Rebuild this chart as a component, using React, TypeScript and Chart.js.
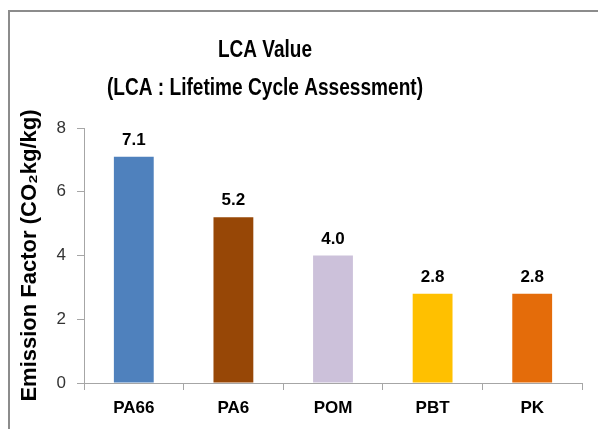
import React, { useEffect, useRef } from "react";
import { Chart, registerables } from "chart.js";

Chart.register(...registerables);

const categories = ["PA66", "PA6", "POM", "PBT", "PK"];
const values = [7.1, 5.2, 4.0, 2.8, 2.8];
const barColors = ["#4F81BD", "#974706", "#CCC1DA", "#FFC000", "#E46C0A"];
const titleLines = ["LCA Value", "(LCA : Lifetime Cycle Assessment)"];
const yTitle = "Emission Factor (CO\u2082kg/kg)";

const framePlugin = {
  id: "frameAndTitle",
  beforeDraw(chart: any) {
    const ctx = chart.ctx;
    ctx.save();
    ctx.fillStyle = "#ffffff";
    ctx.fillRect(0, 0, chart.width, chart.height);
    ctx.strokeStyle = "#8c8c8c";
    ctx.lineWidth = 2;
    ctx.beginPath();
    ctx.moveTo(9, chart.height);
    ctx.lineTo(9, 11);
    ctx.lineTo(chart.width, 11);
    ctx.stroke();
    ctx.restore();
  },
  afterDraw(chart: any) {
    const ctx = chart.ctx;
    ctx.save();
    ctx.fillStyle = "#000000";
    ctx.textAlign = "center";
    ctx.textBaseline = "alphabetic";
    ctx.font = "bold 23px 'Liberation Sans', Arial, sans-serif";
    ctx.fillText(titleLines[0], 265, 57, 94);
    ctx.fillText(titleLines[1], 265, 95, 316);
    // value labels
    const meta = chart.getDatasetMeta(0);
    ctx.font = "bold 17px 'Liberation Sans', Arial, sans-serif";
    meta.data.forEach((bar: any, i: number) => {
      ctx.fillText(values[i].toFixed(1), bar.x, bar.y - 12, 25);
    });
    ctx.restore();
  },
};

export default function App() {
  const ref = useRef<HTMLCanvasElement | null>(null);
  useEffect(() => {
    if (!ref.current) return;
    const chart = new Chart(ref.current, {
      type: "bar",
      data: {
        labels: categories,
        datasets: [
          {
            data: values,
            backgroundColor: barColors,
            borderWidth: 0,
            barPercentage: 0.4,
            categoryPercentage: 1,
          },
        ],
      },
      options: {
        animation: false,
        responsive: false,
        layout: { padding: { top: 128, right: 16, bottom: 0, left: 0 } },
        plugins: {
          legend: { display: false },
          title: { display: false },
          tooltip: { enabled: false },
        },
        scales: {
          x: {
            grid: {
              display: true,
              drawOnChartArea: false,
              drawTicks: true,
              tickLength: 7,
              color: "#a6a6a6",
              offset: true,
            },
            border: { display: true, color: "#a6a6a6", width: 1 },
            ticks: {
              color: "#000000",
              padding: 8,
              font: { family: "'Liberation Sans', Arial, sans-serif", size: 17, weight: "bold" },
            },
            afterFit(scale: any) {
              scale.height = 46;
            },
          },
          y: {
            min: 0,
            max: 8,
            ticks: {
              stepSize: 2,
              color: "#333333",
              padding: 11,
              font: { family: "'Liberation Sans', Arial, sans-serif", size: 17 },
            },
            grid: {
              display: true,
              drawOnChartArea: false,
              drawTicks: true,
              tickLength: 7,
              color: "#a6a6a6",
            },
            border: { display: true, color: "#a6a6a6", width: 1 },
            title: {
              display: true,
              text: yTitle,
              color: "#000000",
              padding: { top: 17, bottom: 0 },
              font: { family: "'Liberation Sans', Arial, sans-serif", size: 22, weight: "bold" },
            },
            afterFit(scale: any) {
              scale.width = 84;
            },
          },
        },
      },
      plugins: [framePlugin],
    });
    return () => chart.destroy();
  }, []);
  return (
    <canvas
      ref={ref}
      width={598}
      height={429}
      style={{ position: "fixed", left: 0, top: 0, display: "block" }}
    />
  );
}
